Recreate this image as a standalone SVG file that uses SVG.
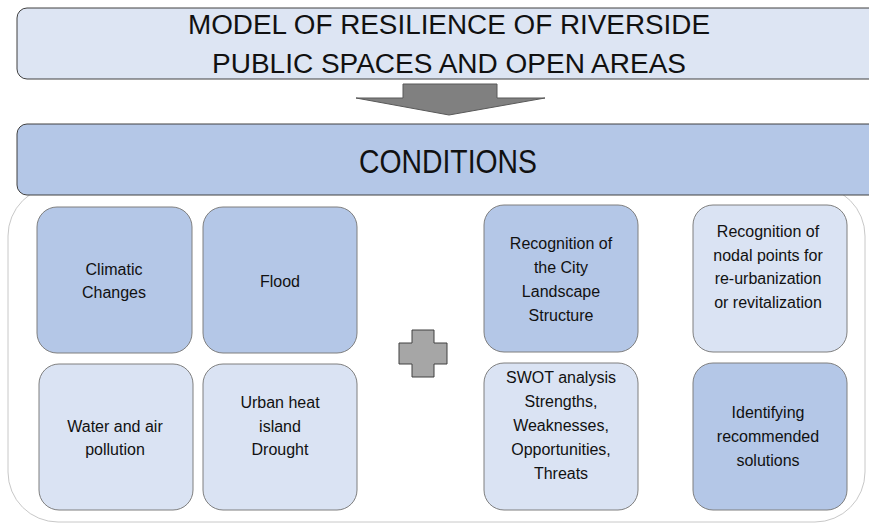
<svg xmlns="http://www.w3.org/2000/svg" width="869" height="524" viewBox="0 0 869 524">
<defs>
<style>
text{font-family:"Liberation Sans",Arial,sans-serif;fill:#111111;text-anchor:middle}
.t{font-size:16px}
.dark{fill:#b4c7e7;stroke:#7f7f7f;stroke-width:1}
.light{fill:#dae3f3;stroke:#7f7f7f;stroke-width:1}
.hdr{stroke:#404040;stroke-width:1}
</style>
</defs>
<rect width="869" height="524" fill="#ffffff"/>
<g id="container">
<rect x="8" y="186" width="857" height="336" rx="50" fill="#ffffff" stroke="#c8c8c8" stroke-width="1"/>
</g>
<g id="title">
<rect class="hdr" x="17" y="8" width="880" height="71" rx="10" fill="#dde5f3"/>
<text x="449" y="34" font-size="27" textLength="522" lengthAdjust="spacingAndGlyphs">MODEL OF RESILIENCE OF RIVERSIDE</text>
<text x="449" y="73" font-size="27" textLength="474" lengthAdjust="spacingAndGlyphs">PUBLIC SPACES AND OPEN AREAS</text>
</g>
<g id="connectors">
<path d="M403,84 H497 V98 H545 L449,115 L356,98 H403 Z" fill="#808080" stroke="#595959" stroke-width="1"/>
</g>
<g id="conditions">
<rect class="hdr" x="17" y="124" width="880" height="71" rx="10" fill="#b4c7e7"/>
<text x="448" y="173" font-size="33" textLength="178" lengthAdjust="spacingAndGlyphs">CONDITIONS</text>
</g>
<g id="climatic">
<rect class="dark" x="37" y="207" width="155" height="146" rx="20"/>
<text class="t" x="114" y="275">Climatic</text>
<text class="t" x="114" y="298">Changes</text>
</g>
<g id="flood">
<rect class="dark" x="203" y="207" width="154" height="146" rx="20"/>
<text class="t" x="280" y="287">Flood</text>
</g>
<g id="pollution">
<rect class="light" x="39" y="364" width="154" height="146" rx="20"/>
<text class="t" x="115" y="432">Water and air</text>
<text class="t" x="115" y="455">pollution</text>
</g>
<g id="heat">
<rect class="light" x="203" y="364" width="154" height="146" rx="20"/>
<text class="t" x="280" y="408">Urban heat</text>
<text class="t" x="280" y="432">island</text>
<text class="t" x="280" y="455">Drought</text>
</g>
<g id="plus">
<path d="M412,330 H434 V343 H447 V364 H434 V377 H412 V364 H399 V343 H412 Z" fill="#a6a6a6" stroke="#404040" stroke-width="1"/>
</g>
<g id="landscape">
<rect class="dark" x="484" y="205" width="154" height="147" rx="20"/>
<text class="t" x="561" y="249">Recognition of</text>
<text class="t" x="561" y="273">the City</text>
<text class="t" x="561" y="297">Landscape</text>
<text class="t" x="561" y="321">Structure</text>
</g>
<g id="nodal">
<rect class="light" x="693" y="205" width="154" height="147" rx="20"/>
<text class="t" x="768" y="237">Recognition of</text>
<text class="t" x="768" y="261">nodal points for</text>
<text class="t" x="768" y="284">re-urbanization</text>
<text class="t" x="768" y="308">or revitalization</text>
</g>
<g id="swot">
<rect class="light" x="484" y="363" width="154" height="147" rx="20"/>
<text class="t" x="561" y="383">SWOT analysis</text>
<text class="t" x="561" y="407">Strengths,</text>
<text class="t" x="561" y="431">Weaknesses,</text>
<text class="t" x="561" y="455">Opportunities,</text>
<text class="t" x="561" y="479">Threats</text>
</g>
<g id="solutions">
<rect class="dark" x="693" y="363" width="154" height="147" rx="20"/>
<text class="t" x="768" y="418">Identifying</text>
<text class="t" x="768" y="442">recommended</text>
<text class="t" x="768" y="466">solutions</text>
</g>
</svg>
